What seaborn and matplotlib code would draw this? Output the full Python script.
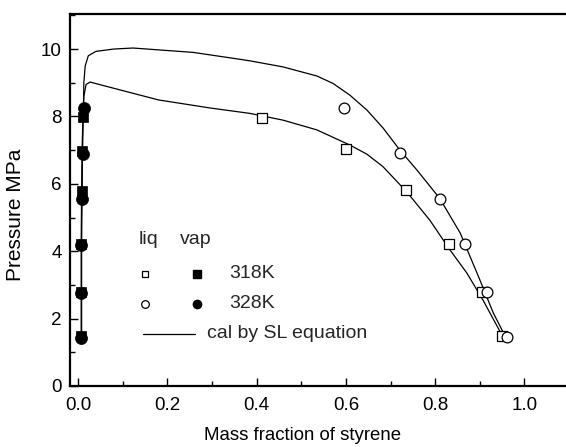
import matplotlib
matplotlib.use("Agg")
import matplotlib.pyplot as plt
import seaborn as sns
from matplotlib.ticker import MultipleLocator

# ---- data ----
liq318_x = [0.412, 0.600, 0.735, 0.831, 0.905, 0.950]
liq318_p = [7.95, 7.03, 5.82, 4.21, 2.79, 1.48]
liq328_x = [0.596, 0.721, 0.811, 0.867, 0.916, 0.961]
liq328_p = [8.25, 6.91, 5.55, 4.21, 2.79, 1.45]

vap318_x = [0.011, 0.009, 0.008, 0.007, 0.007, 0.007]
vap318_p = [7.98, 6.97, 5.79, 4.20, 2.78, 1.48]
vap328_x = [0.013, 0.010, 0.008, 0.007, 0.007, 0.007]
vap328_p = [8.25, 6.88, 5.55, 4.18, 2.76, 1.42]

cal318_x = [0.007, 0.007, 0.007, 0.008, 0.009, 0.011, 0.013, 0.018, 0.027, 0.07,
            0.18, 0.296, 0.385, 0.459, 0.535, 0.609, 0.647, 0.683, 0.737, 0.788,
            0.833, 0.871, 0.907, 0.95]
cal318_p = [1.45, 2.8, 4.2, 5.8, 7.0, 8.0, 8.6, 8.95, 9.02, 8.87,
            8.49, 8.25, 8.09, 7.89, 7.60, 7.15, 6.88, 6.51, 5.75, 4.92,
            4.04, 3.35, 2.55, 1.5]
cal328_x = [0.008, 0.008, 0.008, 0.009, 0.010, 0.012, 0.013, 0.016, 0.023, 0.04,
            0.08, 0.123, 0.258, 0.34, 0.385, 0.459, 0.535, 0.571, 0.609, 0.647,
            0.683, 0.721, 0.759, 0.81, 0.856, 0.90, 0.93, 0.956]
cal328_p = [1.42, 2.75, 4.2, 5.55, 6.9, 8.2, 9.0, 9.5, 9.8, 9.93,
            10.0, 10.03, 9.9, 9.74, 9.65, 9.47, 9.20, 8.98, 8.63, 8.19,
            7.66, 7.00, 6.41, 5.57, 4.54, 3.15, 2.17, 1.5]

x_ticks = [0.0, 0.2, 0.4, 0.6, 0.8, 1.0]
x_ticklabels = ["0.0", "0.2", "0.4", "0.6", "0.8", "1.0"]
y_ticks = [0, 2, 4, 6, 8, 10]
y_ticklabels = ["0", "2", "4", "6", "8", "10"]

sns.set_theme(style="ticks")
plt.rcParams['font.family'] = ['Liberation Sans', 'DejaVu Sans']

fig = plt.figure(figsize=(5.66, 4.47), dpi=100)
ax = fig.add_axes([0.1237, 0.1365, 0.8763, 0.8322])

lw = 0.9
sns.lineplot(x=cal318_x, y=cal318_p, sort=False, estimator=None, color="black", lw=lw, ax=ax)
sns.lineplot(x=cal328_x, y=cal328_p, sort=False, estimator=None, color="black", lw=lw, ax=ax)

sns.scatterplot(x=liq318_x, y=liq318_p, marker="s", s=45, facecolor="white",
                edgecolor="black", linewidth=0.9, ax=ax, zorder=3)
sns.scatterplot(x=liq328_x, y=liq328_p, marker="o", s=60, facecolor="white",
                edgecolor="black", linewidth=0.9, ax=ax, zorder=3)
sns.scatterplot(x=vap318_x, y=vap318_p, marker="s", s=60, color="black",
                edgecolor="black", linewidth=0.5, ax=ax, zorder=3)
sns.scatterplot(x=vap328_x, y=vap328_p, marker="o", s=75, color="black",
                edgecolor="black", linewidth=0.5, ax=ax, zorder=3)

ax.set_xlim(-0.018, 1.093)
ax.set_ylim(0, 11.04)
ax.set_xticks(x_ticks)
ax.set_xticklabels(x_ticklabels)
ax.set_yticks(y_ticks)
ax.set_yticklabels(y_ticklabels)
ax.xaxis.set_minor_locator(MultipleLocator(0.1))
ax.yaxis.set_minor_locator(MultipleLocator(1))
ax.tick_params(which="both", direction="in", color="black", width=1.0)
ax.tick_params(which="major", length=6, labelsize=13.5, pad=8, colors="black")
ax.tick_params(which="minor", length=3.5)
ax.tick_params(axis="y", which="major", pad=6)
for side in ["left", "bottom", "top"]:
    ax.spines[side].set_linewidth(1.6)
    ax.spines[side].set_color("black")
ax.spines["right"].set_visible(False)

ax.set_xlabel("Mass fraction of styrene", fontsize=13.4, color="black")
ax.set_ylabel("Pressure MPa", fontsize=15, color="black")
ax.xaxis.set_label_coords(0.468, -0.11)
ax.yaxis.set_label_coords(-0.091, 0.46)

# ---- manual legend ----
T = ax.transAxes
def ax_xy(px, py):
    return ((px - 70) / 496.0, (386 - py) / 372.0)

fs = 14
x, y = ax_xy(139, 240); ax.text(x, y, "liq", transform=T, fontsize=fs, va="center", ha="left")
x, y = ax_xy(180, 240); ax.text(x, y, "vap", transform=T, fontsize=fs, va="center", ha="left")
x, y = ax_xy(145, 274); ax.plot([x], [y], "s", ms=5, mfc="white", mec="black", mew=0.9, transform=T)
x, y = ax_xy(197, 274); ax.plot([x], [y], "s", ms=5.5, color="black", transform=T)
x, y = ax_xy(229, 274); ax.text(x, y, "318K", transform=T, fontsize=fs, va="center", ha="left")
x, y = ax_xy(145, 304); ax.plot([x], [y], "o", ms=5.5, mfc="white", mec="black", mew=0.9, transform=T)
x, y = ax_xy(197, 304); ax.plot([x], [y], "o", ms=6, color="black", transform=T)
x, y = ax_xy(229, 304); ax.text(x, y, "328K", transform=T, fontsize=fs, va="center", ha="left")
x1, y1 = ax_xy(143, 334); x2, _ = ax_xy(195, 334)
ax.plot([x1, x2], [y1, y1], color="black", lw=lw, transform=T)
x, y = ax_xy(207, 334); ax.text(x, y, "cal by SL equation", transform=T, fontsize=fs, va="center", ha="left")

fig.savefig("out.png", dpi=100)
